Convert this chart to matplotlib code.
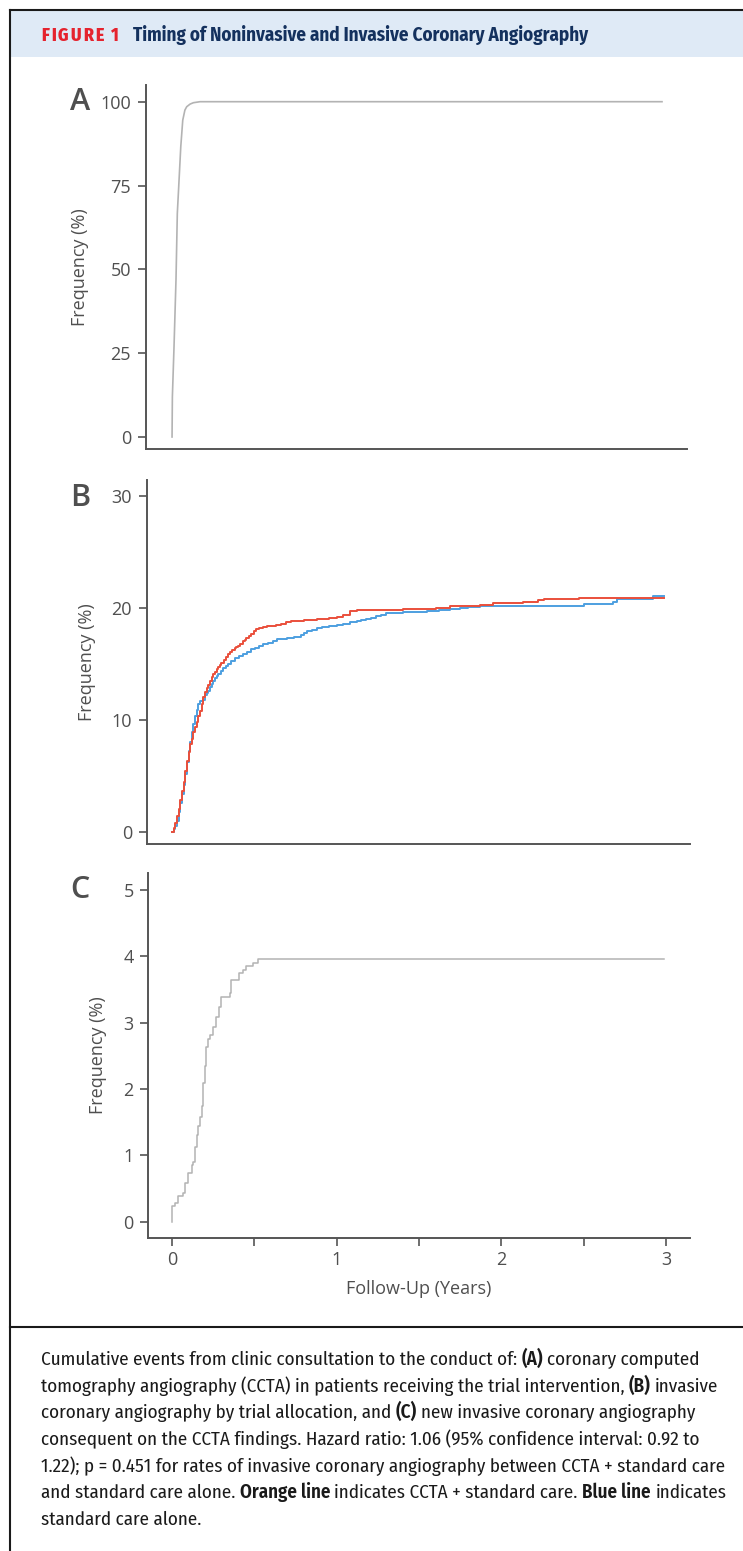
import matplotlib
matplotlib.use("Agg")
import matplotlib.pyplot as plt
from matplotlib.lines import Line2D
from matplotlib.patches import Rectangle

W, H = 743, 1551

# Panel A - CCTA in patients receiving the trial intervention (years, %)
a_years = [0.0, 0.002, 0.012, 0.024, 0.032, 0.0425, 0.053, 0.065, 0.078, 0.089, 0.11, 0.13, 0.17, 2.975]
a_freq = [0, 12, 27, 47, 66.7, 76.6, 86.6, 94.5, 97.5, 98.5, 99.3, 99.7, 100, 100]

# Panel B - invasive coronary angiography by trial allocation
b_blue_years = [0.0, 0.01, 0.02, 0.03, 0.04, 0.05, 0.06, 0.07, 0.08, 0.09, 0.10, 0.11, 0.12, 0.13,
                0.14, 0.15, 0.16, 0.17, 0.19, 0.20, 0.21, 0.22, 0.23, 0.24, 0.25, 0.26, 0.27, 0.28,
                0.295, 0.31, 0.325, 0.34, 0.36, 0.38, 0.405, 0.43, 0.455, 0.48, 0.505, 0.53, 0.555,
                0.58, 0.61, 0.64, 0.67, 0.70, 0.74, 0.78, 0.80, 0.82, 0.85, 0.88, 0.91, 0.95, 1.00,
                1.04, 1.08, 1.12, 1.15, 1.18, 1.21, 1.24, 1.27, 1.30, 1.35, 1.40, 1.47, 1.55, 1.62,
                1.69, 1.75, 1.80, 1.87, 2.50, 2.68, 2.70, 2.92, 2.99]
b_blue_freq = [0.0, 0.2, 0.5, 1.0, 1.8, 2.6, 3.4, 4.2, 5.2, 6.2, 7.2, 8.0, 8.9, 9.6,
               10.3, 10.9, 11.4, 11.7, 11.8, 12.2, 12.4, 12.6, 12.9, 13.2, 13.5, 13.7, 13.9, 14.1,
               14.35, 14.6, 14.8, 15.0, 15.25, 15.5, 15.7, 15.9, 16.1, 16.3, 16.45, 16.6, 16.75,
               16.9, 17.05, 17.2, 17.25, 17.3, 17.4, 17.6, 17.75, 17.9, 18.05, 18.2, 18.3, 18.4, 18.5,
               18.6, 18.7, 18.8, 18.9, 19.0, 19.1, 19.25, 19.4, 19.5, 19.55, 19.6, 19.65, 19.7, 19.8,
               19.9, 20.0, 20.1, 20.17, 20.35, 20.55, 20.8, 21.05, 21.05]

b_red_years = [0.0, 0.01, 0.02, 0.03, 0.04, 0.05, 0.06, 0.07, 0.08, 0.09, 0.10, 0.11, 0.12, 0.13,
               0.14, 0.15, 0.16, 0.17, 0.18, 0.19, 0.20, 0.21, 0.22, 0.23, 0.24, 0.25, 0.26, 0.27,
               0.28, 0.29, 0.30, 0.315, 0.33, 0.34, 0.35, 0.365, 0.38, 0.39, 0.40, 0.415, 0.43,
               0.44, 0.45, 0.465, 0.48, 0.495, 0.51, 0.53, 0.55, 0.575, 0.60, 0.63, 0.66, 0.69, 0.72,
               0.76, 0.80, 0.84, 0.88, 0.92, 0.95, 1.00, 1.04, 1.08, 1.12, 1.40, 1.60, 1.69, 1.87,
               1.95, 2.13, 2.22, 2.26, 2.47, 2.99]
b_red_freq = [0.0, 0.3, 0.8, 1.4, 2.0, 2.8, 3.6, 4.4, 5.4, 6.3, 7.1, 7.8, 8.3, 8.9,
              9.4, 9.8, 10.3, 10.8, 11.4, 12.0, 12.5, 12.8, 13.1, 13.45, 13.8, 14.05, 14.3, 14.5,
              14.7, 14.9, 15.1, 15.35, 15.6, 15.85, 16.1, 16.25, 16.4, 16.5, 16.6, 16.8, 17.0,
              17.15, 17.3, 17.5, 17.7, 17.9, 18.1, 18.2, 18.3, 18.35, 18.4, 18.5, 18.6, 18.7, 18.8,
              18.85, 18.9, 18.95, 19.0, 19.05, 19.1, 19.2, 19.4, 19.7, 19.8, 19.9, 20.0, 20.15, 20.3,
              20.4, 20.55, 20.7, 20.8, 20.9, 20.9]

# Panel C - new invasive coronary angiography following CCTA
c_years = [0.0, 0.0, 0.018, 0.038, 0.069, 0.079, 0.099, 0.12, 0.13, 0.14, 0.15, 0.16, 0.17, 0.18,
           0.19, 0.20, 0.208, 0.22, 0.23, 0.25, 0.267, 0.285, 0.30, 0.35, 0.36, 0.405, 0.43, 0.45,
           0.49, 0.52, 2.99]
c_freq = [0.0, 0.24, 0.28, 0.39, 0.43, 0.58, 0.73, 0.85, 0.90, 1.13, 1.30, 1.44, 1.58, 1.74,
          2.09, 2.34, 2.64, 2.75, 2.82, 2.94, 3.09, 3.24, 3.39, 3.45, 3.64, 3.75, 3.80, 3.85,
          3.90, 3.96, 3.96]

fig_label = "FIGURE 1"
title = "Timing of Noninvasive and Invasive Coronary Angiography"
caption_lines = [
    [("Cumulative events from clinic consultation to the conduct of: ", False), ("(A)", True),
     (" coronary computed", False)],
    [("tomography angiography (CCTA) in patients receiving the trial intervention, ", False),
     ("(B)", True), (" invasive", False)],
    [("coronary angiography by trial allocation, and ", False), ("(C)", True),
     (" new invasive coronary angiography", False)],
    [("consequent on the CCTA findings. Hazard ratio: 1.06 (95% confidence interval: 0.92 to", False)],
    [("1.22); p = 0.451 for rates of invasive coronary angiography between CCTA + standard care", False)],
    [("and standard care alone. ", False), ("Orange line", True),
     (" indicates CCTA + standard care. ", False), ("Blue line", True), (" indicates", False)],
    [("standard care alone.", False)],
]

TXT = "#4f4f4f"
AXC = "#555555"
GRAY = "#b3b3b3"
RED = "#ea4f3b"
BLUE = "#4d9fe0"
CAP_FONT = ["Fira Sans Condensed", "DejaVu Sans"]
AX_FONT = ["Open Sans", "DejaVu Sans"]

fig = plt.figure(figsize=(W / 100, H / 100), dpi=100)
renderer = fig.canvas.get_renderer()


def fx(px):
    return px / W


def fy(py):
    return 1 - py / H


def add_panel(left, right, top, bottom, ylim, xlim):
    ax = fig.add_axes([fx(left), fy(bottom), (right - left) / W, (bottom - top) / H])
    ax.set_xlim(*xlim)
    ax.set_ylim(*ylim)
    for s in ("top", "right"):
        ax.spines[s].set_visible(False)
    for s in ("left", "bottom"):
        ax.spines[s].set_color(AXC)
        ax.spines[s].set_linewidth(1.4)
    ax.tick_params(axis="both", which="both", direction="out", length=6, width=1.2,
                   color=AXC, labelcolor=TXT, labelsize=13, pad=4.5)
    ax.set_ylabel("Frequency (%)", fontsize=13, color=TXT, family=AX_FONT)
    return ax


def style_ticklabels(ax):
    for lab in ax.get_yticklabels() + ax.get_xticklabels():
        lab.set_family(AX_FONT)


# ylabel anchor is the right edge of the rotated text, so add half its height
LABEL_SHIFT = 9

# panel A
axA = add_panel(145.7, 686.7, 85, 449, (-3.58, 104.98), (-0.160, 3.125))
axA.plot(a_years, a_freq, color=GRAY, lw=1.2)
axA.set_yticks([0, 25, 50, 75, 100])
axA.tick_params(axis="x", bottom=False, labelbottom=False)
axA.yaxis.set_label_coords((80 + LABEL_SHIFT - 145.7) / (686.7 - 145.7), 0.5)
style_ticklabels(axA)

# panel B
axB = add_panel(146.7, 690, 480, 844, (-1.10, 31.43), (-0.154, 3.145))
axB.plot(b_blue_years, b_blue_freq, color=BLUE, lw=1.4, drawstyle="steps-post")
axB.plot(b_red_years, b_red_freq, color=RED, lw=1.4, drawstyle="steps-post")
axB.set_yticks([0, 10, 20, 30])
axB.tick_params(axis="x", bottom=False, labelbottom=False)
axB.yaxis.set_label_coords((86.7 + LABEL_SHIFT - 146.7) / (690 - 146.7), 0.5)
style_ticklabels(axB)

# panel C
axC = add_panel(148.3, 690, 873, 1238, (-0.246, 5.256), (-0.144, 3.145))
axC.plot(c_years, c_freq, color=GRAY, lw=1.1, drawstyle="steps-post")
axC.set_yticks([0, 1, 2, 3, 4, 5])
axC.set_xticks([0, 1, 2, 3])
axC.set_xticks([0.5, 1.5, 2.5], minor=True)
axC.tick_params(axis="x", which="both", pad=3.5)
axC.set_xlabel("Follow-Up (Years)", fontsize=13, color=TXT, family=AX_FONT, labelpad=8)
axC.yaxis.set_label_coords((98 + LABEL_SHIFT - 148.3) / (690 - 148.3), 0.5)
style_ticklabels(axC)

for letter, (px, py) in zip("ABC", [(80, 101.7), (80.3, 498), (80, 890)]):
    fig.text(fx(px), fy(py), letter, fontsize=22, fontweight=600, color=TXT,
             family=AX_FONT, ha="center", va="center")

# frame and header band
fig.add_artist(Rectangle((fx(9.5), fy(57)), 1 - fx(9.5), (57 - 10) / H,
                         transform=fig.transFigure, facecolor="#dfeaf6", edgecolor="none"))
frame_kw = dict(transform=fig.transFigure, color="#1a1a1a", lw=1.5)
fig.add_artist(Line2D([fx(9.5), fx(9.5)], [fy(10), 0], **frame_kw))
fig.add_artist(Line2D([fx(9.5), 1], [fy(10), fy(10)], **frame_kw))
fig.add_artist(Line2D([fx(9.5), 1], [fy(1327), fy(1327)], **frame_kw))


def text_width(text, size, weight="normal"):
    t = fig.text(0, 0, text, fontsize=size, family=CAP_FONT, fontweight=weight)
    w = t.get_window_extent(renderer).width
    t.remove()
    return w


def fit_size(text, target_px, weight="normal", base=12):
    return base * target_px / text_width(text, base, weight)


# header: title, then letter-spaced "FIGURE 1"
t_size = fit_size(title, 459, "bold")
fig.text(fx(133), fy(41), title, fontsize=t_size, fontweight="bold", color="#14315e",
         family=CAP_FONT, ha="left", va="baseline")

f_size = t_size * 0.94
f_space = text_width("a a", f_size, 800) - text_width("aa", f_size, 800)
glyph_w = [f_space if c == " " else text_width(c, f_size, 800) for c in fig_label]
tracking = max(0.5, (78 - sum(glyph_w)) / (len(fig_label) - 1))
x = 41
for c, w in zip(fig_label, glyph_w):
    if c != " ":
        fig.text(fx(x), fy(41), c, fontsize=f_size, fontweight=800, color="#e5232e",
                 family=CAP_FONT, ha="left", va="baseline")
    x += w + tracking

# caption with bold runs
cap_size = fit_size(caption_lines[4][0][0], 687)
space_w = text_width("a a", cap_size) - text_width("aa", cap_size)
for i, pieces in enumerate(caption_lines):
    x = 40.7
    base_y = 1365 + i * 26.67
    for txt, bold in pieces:
        lead = len(txt) - len(txt.lstrip(" "))
        trail = len(txt) - len(txt.rstrip(" "))
        x += lead * space_w
        core = txt.strip(" ")
        t = fig.text(fx(x), fy(base_y), core, fontsize=cap_size, family=CAP_FONT,
                     fontweight=600 if bold else "normal", color="#1a1a1a",
                     ha="left", va="baseline")
        x += t.get_window_extent(renderer).width + trail * space_w

fig.savefig("out.png", dpi=100)
